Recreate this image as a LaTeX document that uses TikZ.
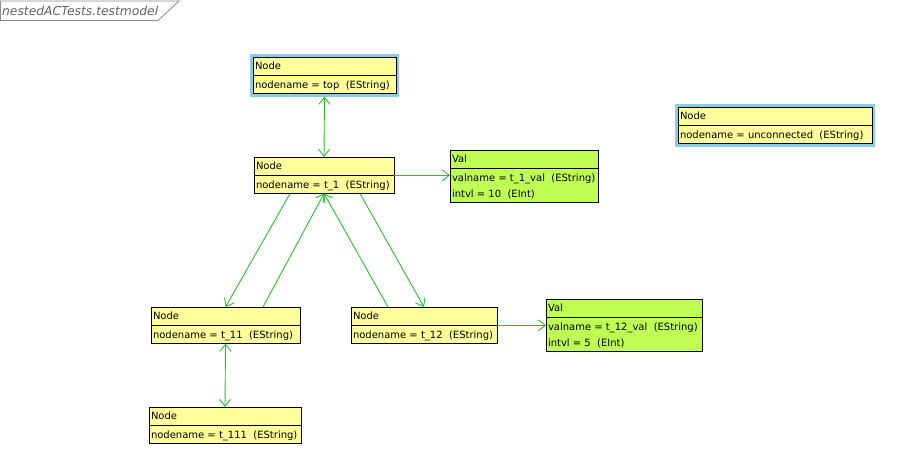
\documentclass[tikz,border=0pt]{standalone}
\usepackage{fontspec}
\setmainfont{DejaVu Sans}
\usetikzlibrary{arrows.meta,shapes.multipart}
\definecolor{nodeyellow}{HTML}{FFFF9C}
\definecolor{valgreen}{HTML}{BFFF55}
\definecolor{linkgreen}{HTML}{2CBE2C}
\definecolor{selblue}{HTML}{8ECBEB}
\definecolor{tabgray}{HTML}{8A8A8A}
\newcommand{\rowstrut}{\rule[-5pt]{0pt}{17.5pt}}

\begin{document}
\begin{tikzpicture}[x=1pt,y=-1pt,>={Straight Barb[length=7pt,width=11pt]},
font=\fontsize{10}{16}\selectfont,
cls/.style={rectangle split,rectangle split parts=2,rectangle split part align=left,draw=black,line width=0.8pt,fill=nodeyellow,anchor=north west,align=left,inner xsep=2pt,inner ysep=0pt,outer sep=0pt},
valbox/.style={cls,fill=valgreen},
selected/.style={preaction={draw=selblue,line width=6pt}},
link/.style={draw=linkgreen,line width=0.9pt}]
\useasboundingbox (0,0) rectangle (897,466);
\draw[tabgray,line width=0.8pt] (0.4,1) -- (179,1) -- (158,20.5) -- (0.4,20.5) -- cycle;
\node[font=\fontsize{12.3}{14}\selectfont\itshape,text=tabgray!70!black,anchor=west,inner sep=0pt] (title) at (2,11) {nestedACTests.testmodel};
\node[cls,selected,minimum width=143pt] (top) at (253,57) {\rowstrut Node\nodepart{two}\rowstrut nodename = top\ \ (EString)};
\node[cls,minimum width=140pt] (t1) at (254,157) {\rowstrut Node\nodepart{two}\rowstrut nodename = t\_1\ \ (EString)};
\node[valbox,minimum width=148pt] (v1) at (450,150) {\rowstrut Val\nodepart{two}\rule{0pt}{12.5pt}valname = t\_1\_val\ \ (EString)\\intvl = 10\ \ (EInt)\rule[-5pt]{0pt}{5pt}};
\node[cls,selected,minimum width=194pt] (unconn) at (678,107) {\rowstrut Node\nodepart{two}\rowstrut nodename = unconnected\ \ (EString)};
\node[cls,minimum width=149pt] (t11) at (151,307) {\rowstrut Node\nodepart{two}\rowstrut nodename = t\_11\ \ (EString)};
\node[cls,minimum width=146pt] (t12) at (351,307) {\rowstrut Node\nodepart{two}\rowstrut nodename = t\_12\ \ (EString)};
\node[valbox,minimum width=156pt] (v2) at (546,299) {\rowstrut Val\nodepart{two}\rule{0pt}{12.5pt}valname = t\_12\_val\ \ (EString)\\intvl = 5\ \ (EInt)\rule[-5pt]{0pt}{5pt}};
\node[cls,minimum width=152pt] (t111) at (149,407) {\rowstrut Node\nodepart{two}\rowstrut nodename = t\_111\ \ (EString)};
\draw[link,<->,shorten <=3pt] (top.south) -- (t1.north);
\draw[link,->] (t1.east) -- (v1.west |- t1.east);
\draw[link,->] ([xshift=36pt]t1.south west) -- (t11.north);\draw[link,->] ([xshift=112pt]t11.north west) -- (t1.south);
\draw[link,->] ([xshift=37pt]t12.north west) -- (t1.south);\draw[link,->] ([xshift=106pt]t1.south west) -- (t12.north);
\draw[link,->] (t12.east) -- (v2.west |- t12.east);
\draw[link,<->] (t11.south) -- (t111.north);
\end{tikzpicture}
\end{document}
